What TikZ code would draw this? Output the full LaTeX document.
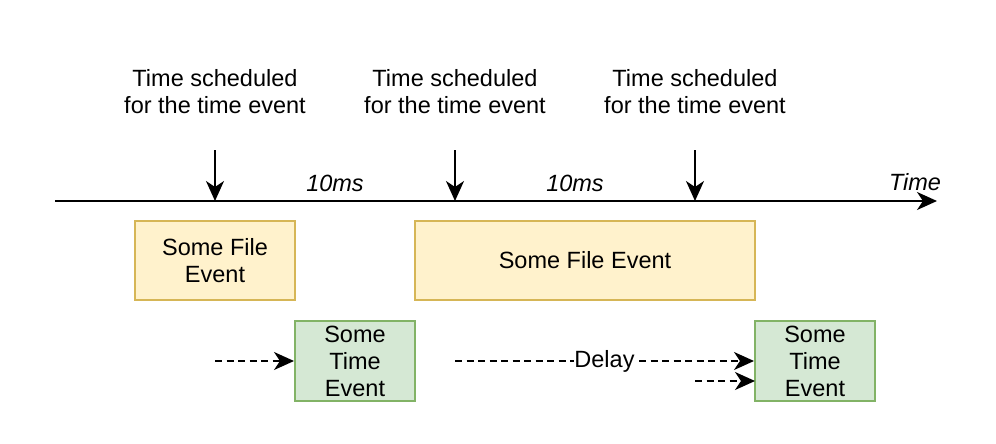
\documentclass[tikz,border=0pt]{standalone}
\usepackage{fontspec}
\setmainfont{Liberation Sans}
\usetikzlibrary{arrows.meta}
\definecolor{fileFill}{HTML}{FFF2CC}
\definecolor{fileLine}{HTML}{D6B656}
\definecolor{timeFill}{HTML}{D5E8D4}
\definecolor{timeLine}{HTML}{82B366}
\begin{document}
\begin{tikzpicture}[x=1pt,y=-1pt,
  txt/.style={font=\fontsize{23.5}{27}\selectfont, align=center, inner sep=0pt},
  itxt/.style={font=\fontsize{23.5}{27}\selectfont\itshape, inner sep=0pt},
  filebox/.style={draw=fileLine, fill=fileFill, line width=2pt, txt},
  timebox/.style={draw=timeLine, fill=timeFill, line width=2pt, txt},
  tip/.style={-{Stealth[length=20pt,width=18pt,inset=6pt]}},
  solidarrow/.style={line width=2pt, tip},
  dasharrow/.style={line width=2pt, dash pattern=on 7pt off 4.5pt, tip}
]
\useasboundingbox (0,0) rectangle (996,444);

% time axis
\coordinate (axisStart) at (55,201);
\coordinate (axisEnd) at (937,201);
\draw[solidarrow] (axisStart) -- (axisEnd);
\node[itxt] (timeLbl) at (915,182) {Time};
\node[itxt] (gapA) at (335,183) {10ms};
\node[itxt] (gapB) at (575,183) {10ms};

% scheduled instants
\foreach \x/\n in {215/a, 455/b, 695/c} {
  \node[txt] (sched\n) at (\x,92) {Time scheduled\\for the time event};
  \coordinate (top\n) at (\x,150);
  \coordinate (hit\n) at (\x,201);
  \draw[solidarrow] (top\n) -- (hit\n);
}

% file events
\node[filebox, minimum width=160pt, minimum height=79pt] (fileA) at (215,260.5) {Some File\\Event};
\node[filebox, minimum width=340pt, minimum height=79pt] (fileB) at (585,260.5) {Some File Event};

% time events
\node[timebox, minimum width=120pt, minimum height=80pt] (timeA) at (355,361) {Some\\Time\\Event};
\node[timebox, minimum width=120pt, minimum height=80pt] (timeB) at (815,361) {Some\\Time\\Event};

% waiting arrows
\coordinate (waitA) at (215,361);
\draw[dasharrow] (waitA) -- (timeA.west);
\coordinate (waitB) at (455,361);
\draw[dasharrow] (waitB) -- node[txt, fill=white, inner xsep=0pt, inner ysep=1pt] (delayLbl) {Delay} (timeB.west);
\coordinate (waitC) at (695,381);
\coordinate (waitCend) at (755,381);
\draw[dasharrow] (waitC) -- (waitCend);
\end{tikzpicture}
\end{document}
